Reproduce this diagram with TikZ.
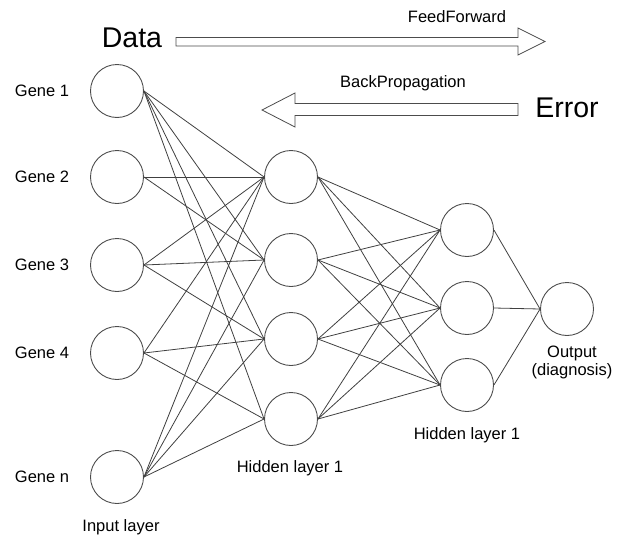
\documentclass[tikz,border=0pt]{standalone}
\usepackage{fontspec}
\setmainfont{Liberation Sans}
\begin{document}
\begin{tikzpicture}[x=1pt,y=-1pt,
  neuron/.style={circle,draw=black!70,line width=0.9pt,minimum size=53pt,inner sep=0pt},
  link/.style={draw=black!75,line width=0.8pt},
  lbl/.style={font=\fontsize{16.5}{18}\selectfont,inner sep=0pt},
  big/.style={font=\fontsize{28.5}{30}\selectfont,inner sep=0pt},
  bigarrow/.style={draw=black!70,line width=0.8pt,fill=white}]
\useasboundingbox (0,0) rectangle (625,536);

% input layer
\node[neuron] (i1) at (117,91) {};
\node[neuron] (i2) at (117,177) {};
\node[neuron] (i3) at (117,265) {};
\node[neuron] (i4) at (117,353) {};
\node[neuron] (i5) at (117,477) {};
% first hidden layer
\node[neuron] (h1) at (291,177) {};
\node[neuron] (h2) at (291,260) {};
\node[neuron] (h3) at (291,339) {};
\node[neuron] (h4) at (291,419) {};
% second hidden layer
\node[neuron] (g1) at (467,230) {};
\node[neuron] (g2) at (467,308) {};
\node[neuron] (g3) at (467,385) {};
% output
\node[neuron] (o) at (567,309) {};

% labels
\node[lbl] (t1) at (42,91) {Gene 1};
\node[lbl] (t2) at (42,177) {Gene 2};
\node[lbl] (t3) at (42,265) {Gene 3};
\node[lbl] (t4) at (42,353) {Gene 4};
\node[lbl] (t5) at (42,477) {Gene n};
\node[lbl] (tin) at (121,527) {Input layer};
\node[lbl] (th1) at (290,468) {Hidden layer 1};
\node[lbl] (th2) at (467,435) {Hidden layer 1};
\node[lbl,align=center] (tout) at (572,362) {Output\\(diagnosis)};

% input to first hidden layer
\foreach \t in {h1,h2,h3,h4} \draw[link] (i1.east) -- (\t.west);
\foreach \t in {h1,h2} \draw[link] (i2.east) -- (\t.west);
\foreach \t in {h1,h2,h3} \draw[link] (i3.east) -- (\t.west);
\foreach \t in {h1,h3,h4} \draw[link] (i4.east) -- (\t.west);
\foreach \t in {h1,h2,h3,h4} \draw[link] (i5.east) -- (\t.west);
% first to second hidden layer
\foreach \s in {h1,h2,h3,h4}
  \foreach \t in {g1,g2,g3}
    \draw[link] (\s.east) -- (\t.west);
% second hidden layer to output
\foreach \s in {g1,g2,g3} \draw[link] (\s.east) -- (o.west);

% feed-forward / back-propagation arrows
\node[big] (data) at (132,38) {Data};
\node[big] (err) at (567,108) {Error};
\node[lbl] (ff) at (457,17) {FeedForward};
\node[lbl] (bp) at (403,83) {BackPropagation};
\draw[bigarrow] (176,37.5) -- (518,37.5) -- (518,28) -- (545,41.5) -- (518,55) -- (518,46) -- (176,46) -- cycle;
\draw[bigarrow] (518,103.5) -- (295,103.5) -- (295,93) -- (262,110) -- (295,127) -- (295,115.5) -- (518,115.5) -- cycle;
\end{tikzpicture}
\end{document}
